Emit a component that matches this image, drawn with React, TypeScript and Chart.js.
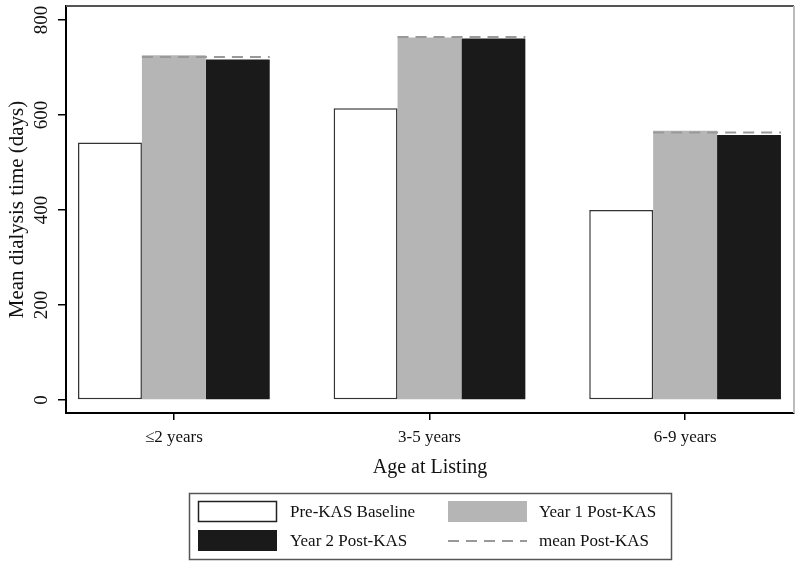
import React, { useEffect, useRef } from "react";
import { Chart, registerables } from "chart.js";

Chart.register(...registerables);

const categories = ["≤2 years", "3-5 years", "6-9 years"];
const seriesLabels = ["Pre-KAS Baseline", "Year 1 Post-KAS", "Year 2 Post-KAS", "mean Post-KAS"];
const preKAS = [542, 614, 400];
const year1Post = [726, 763, 567];
const year2Post = [717, 761, 558];
const meanPost = [722, 764, 563];
const yTicks = [0, 200, 400, 600, 800];
const yTitle = "Mean dialysis time (days)";
const xTitle = "Age at Listing";

const FONT = "'Liberation Serif', 'Times New Roman', serif";
const WHITE = "#ffffff";
const GRAY = "#b5b5b5";
const BLACK = "#1a1a1a";
const DASH = "#999999";

const meanLinePlugin = {
  id: "meanLine",
  afterDatasetsDraw(chart: any) {
    const m1 = chart.getDatasetMeta(1);
    const m2 = chart.getDatasetMeta(2);
    const y = chart.scales.y;
    const ctx = chart.ctx;
    ctx.save();
    ctx.strokeStyle = DASH;
    ctx.lineWidth = 2;
    ctx.setLineDash([11, 7]);
    meanPost.forEach((v, i) => {
      const b1 = m1.data[i];
      const b2 = m2.data[i];
      if (!b1 || !b2) return;
      const x1 = b1.x - b1.width / 2;
      const x2 = b2.x + b2.width / 2;
      const py = y.getPixelForValue(v);
      ctx.beginPath();
      ctx.moveTo(x1, py);
      ctx.lineTo(x2, py);
      ctx.stroke();
    });
    ctx.restore();
  },
};

const framePlugin = {
  id: "frame",
  beforeDatasetsDraw(chart: any) {
    const { ctx, chartArea } = chart;
    ctx.save();
    ctx.lineWidth = 2;
    ctx.strokeStyle = "#555555";
    ctx.beginPath();
    ctx.moveTo(chartArea.left, chartArea.top);
    ctx.lineTo(chartArea.right, chartArea.top);
    ctx.stroke();
    ctx.strokeStyle = "#bbbbbb";
    ctx.beginPath();
    ctx.moveTo(chartArea.right, chartArea.top);
    ctx.lineTo(chartArea.right, chartArea.bottom);
    ctx.stroke();
    ctx.restore();
  },
};

const legendPlugin = {
  id: "customLegend",
  afterDraw(chart: any) {
    const ctx = chart.ctx;
    ctx.save();
    ctx.strokeStyle = "#555555";
    ctx.lineWidth = 1.5;
    ctx.strokeRect(189.5, 493.5, 482, 66);
    ctx.font = `17px ${FONT}`;
    ctx.textBaseline = "middle";
    ctx.textAlign = "left";
    ctx.fillStyle = WHITE;
    ctx.fillRect(198, 501, 79, 21);
    ctx.strokeStyle = "#222";
    ctx.lineWidth = 1.5;
    ctx.strokeRect(198.5, 501.5, 78, 20);
    ctx.fillStyle = "#111";
    ctx.fillText(seriesLabels[0], 290, 513);
    ctx.fillStyle = GRAY;
    ctx.fillRect(448, 501, 79, 21);
    ctx.fillStyle = "#111";
    ctx.fillText(seriesLabels[1], 539, 513);
    ctx.fillStyle = BLACK;
    ctx.fillRect(198, 530, 79, 21);
    ctx.fillStyle = "#111";
    ctx.fillText(seriesLabels[2], 290, 542);
    ctx.strokeStyle = DASH;
    ctx.lineWidth = 2;
    ctx.setLineDash([11, 7]);
    ctx.beginPath();
    ctx.moveTo(448, 541);
    ctx.lineTo(527, 541);
    ctx.stroke();
    ctx.setLineDash([]);
    ctx.fillStyle = "#111";
    ctx.fillText(seriesLabels[3], 539, 542);
    ctx.restore();
  },
};

export default function App() {
  const ref = useRef<HTMLCanvasElement | null>(null);
  useEffect(() => {
    if (!ref.current) return;
    const chart = new Chart(ref.current, {
      type: "bar",
      data: {
        datasets: [
          {
            label: seriesLabels[0],
            data: preKAS.map((v, i) => ({ x: i, y: v })),
            backgroundColor: WHITE,
            borderColor: "#333333",
            borderWidth: 1.5,
            borderSkipped: false,
          },
          {
            label: seriesLabels[1],
            data: year1Post.map((v, i) => ({ x: i, y: v })),
            backgroundColor: GRAY,
            borderWidth: 0,
          },
          {
            label: seriesLabels[2],
            data: year2Post.map((v, i) => ({ x: i, y: v })),
            backgroundColor: BLACK,
            borderWidth: 0,
          },
        ],
      },
      options: {
        responsive: false,
        animation: false,
        datasets: { bar: { categoryPercentage: 0.75, barPercentage: 1 } },
        layout: { padding: { left: 0, top: 6, right: 6, bottom: 0 } },
        plugins: { legend: { display: false }, tooltip: { enabled: false } },
        scales: {
          x: {
            type: "linear",
            offset: false,
            min: -0.422,
            max: 2.426,
            afterBuildTicks: (axis: any) => {
              axis.ticks = categories.map((_, i) => ({ value: i }));
            },
            afterFit: (axis: any) => {
              axis.height = 151;
              axis.paddingLeft = 0;
              axis.paddingRight = 0;
            },
            ticks: {
              autoSkip: false,
              maxRotation: 0,
              padding: 7,
              color: "#111",
              font: { family: FONT, size: 17 },
              callback: (v: any) => categories[v] ?? "",
            },
            grid: { display: true, offset: false, drawOnChartArea: false, drawTicks: true, tickLength: 7, color: "#000", lineWidth: 1.5 },
            border: { display: true, color: "#000", width: 2 },
            title: {
              display: true,
              text: xTitle,
              color: "#111",
              font: { family: FONT, size: 20 },
              padding: { top: 0, bottom: 84 },
            },
          },
          y: {
            type: "linear",
            min: -27.4,
            max: 829.5,
            afterBuildTicks: (axis: any) => {
              axis.ticks = yTicks.map((v) => ({ value: v }));
            },
            afterFit: (axis: any) => {
              axis.width = 66;
              axis.paddingTop = 0;
              axis.paddingBottom = 0;
            },
            ticks: {
              minRotation: 90,
              maxRotation: 90,
              crossAlign: "center",
              padding: 2,
              color: "#111",
              font: { family: FONT, size: 19 },
              callback: (v: any) => String(v),
            },
            grid: { display: true, drawOnChartArea: false, drawTicks: true, tickLength: 8, color: "#000", lineWidth: 1.5 },
            border: { display: true, color: "#000", width: 2 },
            title: {
              display: true,
              text: yTitle,
              color: "#111",
              font: { family: FONT, size: 21 },
              padding: { top: 5, bottom: 0 },
            },
          },
        },
      },
      plugins: [framePlugin, meanLinePlugin, legendPlugin],
    } as any);
    return () => chart.destroy();
  }, []);
  return (
    <div style={{ position: "absolute", left: 0, top: 0, width: 800, height: 564, background: "#fff" }}>
      <canvas ref={ref} width={800} height={564} style={{ display: "block" }} />
    </div>
  );
}
